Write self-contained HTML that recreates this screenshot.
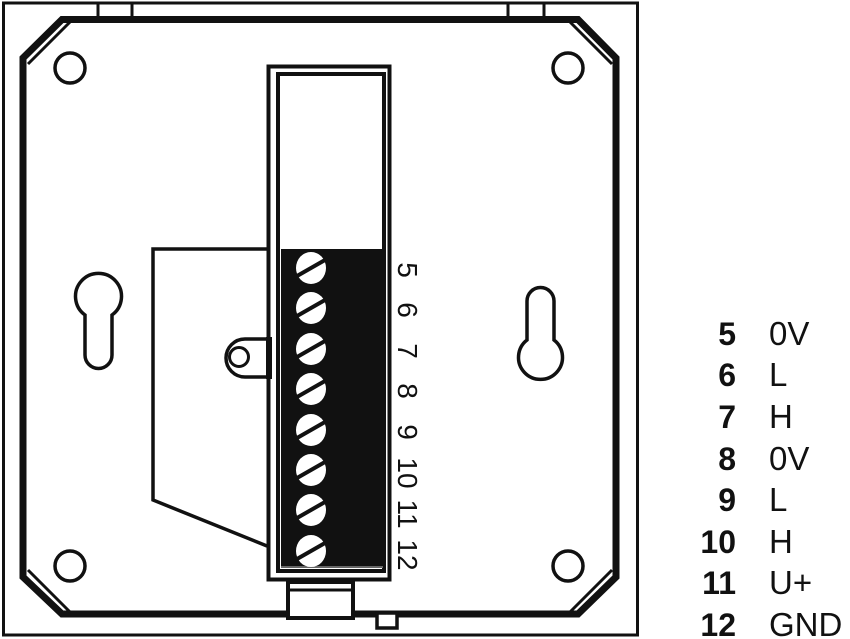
<!DOCTYPE html>
<html><head><style>body{margin:0;background:#fff}svg{display:block}</style></head><body>
<svg width="850" height="639" viewBox="0 0 850 639" xmlns="http://www.w3.org/2000/svg">
<g fill="none" stroke="#111">
<rect x="3.5" y="3" width="634" height="632" stroke-width="3"/>
<path d="M98 3V16M132 3V16M508 3V16M544 3V16" stroke-width="3"/>
<polygon points="62,19.5 578,19.5 616,58 616,577 578,614 62,614 23,577 23,58" stroke-width="7"/>
<path d="M70,22 L28,64 M570,22 L612,64 M612,570 L570,612 M28,570 L70,612" stroke-width="3"/>
<circle cx="70" cy="68" r="15" stroke-width="3.5"/>
<circle cx="568" cy="68" r="15" stroke-width="3.5"/>
<circle cx="70" cy="566" r="15" stroke-width="3.5"/>
<circle cx="568" cy="566" r="15" stroke-width="3.5"/>
<path d="M85,315 A23,23 0 1 1 112,315 V355 A13,13 0 0 1 85,355 Z" stroke-width="3.5"/>
<path d="M527,340 V301 A13.5,13.5 0 0 1 554,301 V340 A22,22 0 1 1 527,340 Z" stroke-width="3.5"/>
<polyline points="267,249 153,249 153,500 267,546" stroke-width="3.5"/>
<path d="M270,339 H245 A19,19 0 0 0 245,377 H270" stroke-width="3.5" fill="#fff"/>
<circle cx="239" cy="357" r="9.5" stroke-width="3"/>
<rect x="268.5" y="66.5" width="121" height="513" stroke-width="4" fill="#fff"/>
<rect x="278" y="74" width="106" height="497" stroke-width="4"/>
<rect x="288" y="582" width="65" height="36" stroke-width="4" fill="#fff"/>
<path d="M288,590 H353" stroke-width="3"/>
<rect x="377" y="613" width="20" height="15" stroke-width="3.5" fill="#fff"/>
</g>
<rect x="266" y="337" width="6" height="42" fill="#111"/>
<rect x="281" y="249" width="102" height="319" fill="#111"/>
<path d="M281,567 H383" stroke="#bbb" stroke-width="1"/>
<g fill="#fff">
<ellipse cx="311" cy="268" rx="15" ry="16"/><ellipse cx="311" cy="308" rx="15" ry="16"/>
<ellipse cx="311" cy="349" rx="15" ry="16"/><ellipse cx="311" cy="389" rx="15" ry="16"/>
<ellipse cx="311" cy="430" rx="15" ry="16"/><ellipse cx="311" cy="470" rx="15" ry="16"/>
<ellipse cx="311" cy="510" rx="15" ry="16"/><ellipse cx="311" cy="551" rx="15" ry="16"/>
</g>
<g stroke="#111" stroke-width="4">
<path d="M297,276 L325,260 M297,316 L325,300 M297,357 L325,341 M297,397 L325,381 M297,438 L325,422 M297,478 L325,462 M297,518 L325,502 M297,559 L325,543"/>
</g>
<g font-family="Liberation Sans, sans-serif" font-size="28" fill="#111" text-anchor="middle">
<text transform="translate(398,270) rotate(90)">5</text>
<text transform="translate(398,310) rotate(90)">6</text>
<text transform="translate(398,351) rotate(90)">7</text>
<text transform="translate(398,391) rotate(90)">8</text>
<text transform="translate(398,432) rotate(90)">9</text>
<text transform="translate(398,473) rotate(90)">10</text>
<text transform="translate(398,514) rotate(90)">11</text>
<text transform="translate(398,555) rotate(90)">12</text>
</g>
<g font-family="Liberation Sans, sans-serif" font-size="32" fill="#111">
<g font-weight="bold" text-anchor="end">
<text x="736" y="345">5</text><text x="736" y="386">6</text><text x="736" y="428">7</text><text x="736" y="470">8</text>
<text x="736" y="511">9</text><text x="736" y="553">10</text><text x="736" y="594">11</text><text x="736" y="636">12</text>
</g>
<g font-size="33">
<text x="769" y="345">0V</text><text x="769" y="386">L</text><text x="769" y="428">H</text><text x="769" y="470">0V</text>
<text x="769" y="511">L</text><text x="769" y="553">H</text><text x="769" y="594">U+</text><text x="769" y="636">GND</text>
</g>
</g>
</svg>
</body></html>
